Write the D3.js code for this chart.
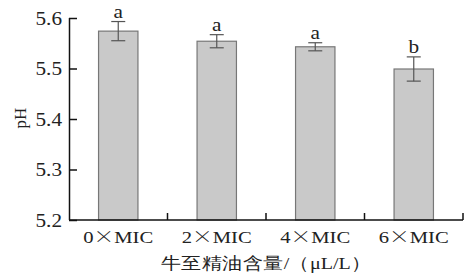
<!DOCTYPE html>
<html><head><meta charset="utf-8">
<script src="https://cdn.jsdelivr.net/npm/d3@7"></script>
<style>body{margin:0;background:#fff}svg{display:block}text{font-family:"Liberation Serif","Times New Roman",serif;fill:#222}</style>
</head><body><svg id="c" width="468" height="276"></svg>
<script>
const categories = ["0×MIC","2×MIC","4×MIC","6×MIC"];
const values = [5.574, 5.554, 5.543, 5.499];
const errors = [0.019, 0.013, 0.008, 0.024];
const letters = ["a","a","a","b"];
const yTicks = [5.2,5.3,5.4,5.5,5.6];
const xTitle = "牛至精油含量/（μL/L）";
const yTitle = "pH";

const SX = 1.18; // horizontal stretch of the reference lettering
const svg = d3.select("#c");
const L=69, R=463, T=18, B=220;
const x = d3.scaleBand().domain(categories).range([L,R]).paddingInner(0.6).paddingOuter(0.3);
const xb = d3.scaleBand().domain(categories).range([L,R]).padding(0);
const y = d3.scaleLinear().domain([5.2,5.6]).range([B,T]);

// bars
svg.selectAll("rect.bar").data(values).join("rect")
  .attr("x",(d,i)=>x(categories[i])).attr("width",x.bandwidth())
  .attr("y",d=>y(d)).attr("height",d=>B-y(d))
  .attr("fill","#c9c9c9").attr("stroke","#777").attr("stroke-width",1.2);

// error bars
const eg = svg.append("g").attr("stroke","#555").attr("stroke-width",1.2);
values.forEach((v,i)=>{
  const cx = x(categories[i])+x.bandwidth()/2;
  eg.append("line").attr("x1",cx).attr("x2",cx).attr("y1",y(v+errors[i])).attr("y2",y(v-errors[i]));
  eg.append("line").attr("x1",cx-7).attr("x2",cx+7).attr("y1",y(v+errors[i])).attr("y2",y(v+errors[i]));
  eg.append("line").attr("x1",cx-7).attr("x2",cx+7).attr("y1",y(v-errors[i])).attr("y2",y(v-errors[i]));
  svg.append("text").attr("transform",`translate(${cx},${y(v+errors[i])-4}) scale(${SX},1)`)
    .attr("text-anchor","middle").attr("font-size",18).text(letters[i]);
});

// y axis
const ya = svg.append("g").attr("transform",`translate(${L},0)`)
  .call(d3.axisRight(y).tickValues(yTicks).tickSize(8).tickFormat(d3.format(".1f")));
ya.select(".domain").attr("d",`M0.5,${T}V${B}`).attr("stroke","#111").attr("stroke-width",1.5);
ya.selectAll(".tick line").attr("stroke","#111").attr("stroke-width",1.5);
ya.selectAll(".tick text").attr("x",0).attr("dy","0.35em").attr("transform",`translate(-7,0) scale(${SX},1)`)
  .attr("text-anchor","end").attr("font-size",18)
  .attr("font-family","Liberation Serif, serif").attr("fill","#222");

// x axis
const xa = svg.append("g").attr("transform",`translate(0,${B})`);
xa.append("line").attr("x1",L).attr("x2",R).attr("y1",0).attr("y2",0).attr("stroke","#111").attr("stroke-width",1.5);
const bounds = categories.map(c=>xb(c)+xb.bandwidth());
xa.selectAll("line.t").data(bounds).join("line").attr("class","t")
  .attr("x1",d=>d).attr("x2",d=>d).attr("y1",0).attr("y2",-7).attr("stroke","#111").attr("stroke-width",1.5);
const xt = xa.selectAll("text").data(categories).join("text")
  .attr("transform",d=>`translate(${xb(d)+xb.bandwidth()/2},23) scale(${SX},1)`)
  .attr("text-anchor","middle").attr("font-size",17.5);
xt.each(function(d){
  const parts = d.split("×");
  const t = d3.select(this);
  t.append("tspan").text(parts[0]);
  t.append("tspan").attr("font-family","Noto Sans CJK SC").attr("font-weight",300).text("×");
  t.append("tspan").text(parts[1]);
});

svg.append("text").attr("transform",`translate(${(L+R)/2},269) scale(${SX},1)`).attr("text-anchor","middle")
  .attr("font-size",17).attr("font-family","Noto Sans CJK SC, sans-serif").attr("fill","#333").text(xTitle);
svg.append("text").attr("transform",`translate(26,118) rotate(-90)`).attr("text-anchor","middle")
  .attr("font-size",17).text(yTitle);
</script></body></html>
